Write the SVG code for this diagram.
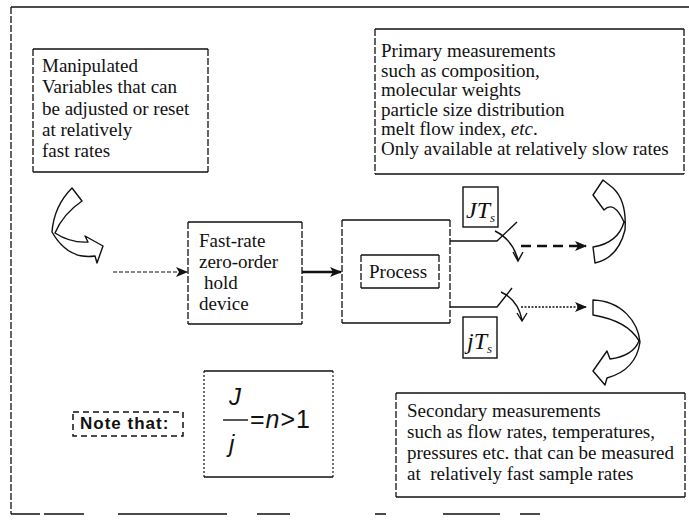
<svg xmlns="http://www.w3.org/2000/svg" width="689" height="520" viewBox="0 0 689 520">
<defs>
<style>
.t{font-family:"Liberation Serif","Times New Roman",serif;font-size:19px;fill:#111}
.ln{fill:none;stroke:#111;stroke-width:1.4}
.ds{fill:none;stroke:#111;stroke-width:1.3;stroke-dasharray:7,2}
.blk{fill:#fff;stroke:#111;stroke-width:1.4;stroke-linejoin:round}
.mi{font-family:"Liberation Serif","Times New Roman",serif;font-style:italic;fill:#111}
.ms{font-family:"Liberation Sans",Arial,sans-serif;fill:#111}
</style>
<marker id="ah" viewBox="0 0 12 10" refX="11" refY="5" markerWidth="12" markerHeight="10" markerUnits="userSpaceOnUse" orient="auto">
<path d="M0,0 L12,5 L0,10 L3,5 z" fill="#111"/>
</marker>
</defs>
<rect width="689" height="520" fill="#fff"/>

<g id="frame">
<path class="ln" d="M11,7 L689,7"/>
<path class="ds" d="M11,7 L11,514"/>
<path class="ln" d="M11,514 L40,514 M44,514 L84,514 M118,514 L227,514 M257,514 L290,514 M375,514 L386,514 M443,514 L500,514 M520,514 L540,514"/>
</g>

<g id="manipulated">
<path class="ln" d="M33,49 L208,49 M33,172 L208,172"/>
<path class="ds" d="M33,49 L33,172 M208,49 L208,172"/>
<text class="t" x="42" y="72">Manipulated</text>
<text class="t" x="42" y="93">Variables that can</text>
<text class="t" x="42" y="115">be adjusted or reset</text>
<text class="t" x="42" y="136">at relatively</text>
<text class="t" x="42" y="157">fast rates</text>
</g>

<g id="primary">
<path class="ln" d="M375,29 L684,29 M375,174 L684,174"/>
<path class="ds" d="M375,29 L375,174 M684,29 L684,174"/>
<text class="t" x="381" y="57">Primary measurements</text>
<text class="t" x="381" y="76.5">such as composition,</text>
<text class="t" x="381" y="96">molecular weights</text>
<text class="t" x="381" y="115.5">particle size distribution</text>
<text class="t" x="381" y="135">melt flow index, <tspan font-style="italic">etc</tspan>.</text>
<text class="t" x="381" y="154.5">Only available at relatively slow rates</text>
</g>

<g id="curved-left">
<path class="blk" d="M72,188 L82,201 Q63,214 55,233 Q70,243 88,242 L85,236 L103,246 L97,263 L95,256 Q68,260 52,232 Q54,206 72,188 Z"/>
</g>

<g id="zoh">
<path class="ln" d="M188,222 L302,222 M188,324 L302,324"/>
<path class="ds" d="M188,222 L188,324 M302,222 L302,324"/>
<text class="t" x="199" y="247">Fast-rate</text>
<text class="t" x="199" y="268">zero-order</text>
<text class="t" x="204" y="289">hold</text>
<text class="t" x="199" y="310">device</text>
</g>

<g id="process">
<path class="ln" d="M342,220 L450,220 M342,323 L450,323"/>
<path class="ds" d="M342,220 L342,323 M450,220 L450,323"/>
<path class="ln" d="M361,255 L439,255 M361,288 L439,288" stroke-width="1.2"/>
<path class="ds" d="M361,255 L361,288 M439,255 L439,288" stroke-width="1"/>
<text class="t" x="369" y="278">Process</text>
</g>

<g id="JTs">
<rect x="463" y="187" width="35" height="40" fill="none" stroke="#111" stroke-width="1.4"/>
<text class="mi" x="466" y="218" font-size="24">JT<tspan font-size="13" dy="4">s</tspan></text>
</g>

<g id="jTs">
<rect x="463" y="317" width="34" height="41" fill="none" stroke="#111" stroke-width="1.4"/>
<text class="mi" x="467" y="349" font-size="24">jT<tspan font-size="13" dy="4">s</tspan></text>
</g>

<g id="curved-upper-right">
<path class="blk" d="M593,247 L595,263 Q618,258 625,230 Q627,201 613,188 L603,180 L593,195 L604,210 Q614,200 624,222 Q618,243 593,247 Z"/>
</g>

<g id="curved-lower-right">
<path class="blk" d="M593,300 L593,315 Q628,321 639,341 Q633,356 610,359 L607,351 L593,371 L605,385 L607,378 Q636,370 640,342 C638,322 622,301 593,300 Z"/>
</g>

<g id="secondary">
<path class="ln" d="M396,393 L685,393 M396,497 L685,497"/>
<path class="ds" d="M396,393 L396,497 M685,393 L685,497"/>
<text class="t" x="407" y="417">Secondary measurements</text>
<text class="t" x="407" y="438">such as flow rates, temperatures,</text>
<text class="t" x="407" y="459">pressures etc. that can be measured</text>
<text class="t" x="407" y="480">at&#160; relatively fast sample rates</text>
</g>

<g id="note">
<rect x="73" y="412" width="110" height="24" fill="none" stroke="#111" stroke-width="1.5" stroke-dasharray="6,4"/>
<text class="ms" x="80" y="429" font-size="17" font-weight="bold" letter-spacing="1">Note that:</text>
</g>

<g id="formula">
<path class="ln" d="M204,371 L333,371 M204,477 L333,477"/>
<path fill="none" stroke="#111" stroke-width="1.2" stroke-dasharray="2,2" d="M204,371 L204,477 M333,371 L333,477"/>
<text class="ms" x="229" y="405" font-size="24" font-style="italic">J</text>
<path class="ln" d="M223,420 L248,420" stroke-width="1.6"/>
<text class="ms" x="229" y="452" font-size="24" font-style="italic">j</text>
<text class="ms" x="250" y="428" font-size="25" letter-spacing="1">=<tspan font-style="italic">n</tspan>&gt;1</text>
</g>

<g id="connectors">
<path fill="none" stroke="#111" stroke-width="1.2" stroke-dasharray="4,2" d="M113,272 L187,272" marker-end="url(#ah)"/>
<path fill="none" stroke="#111" stroke-width="2.6" d="M302,272 L341,272" marker-end="url(#ah)"/>
<path class="ln" d="M450,241 L497,241 L517,222"/>
<path class="ln" d="M495,231 Q513,240 518,260 M513,252 L518,261 L523,252"/>
<path fill="none" stroke="#111" stroke-width="2.6" stroke-dasharray="10,6" d="M521,246 L586,246" marker-end="url(#ah)"/>
<path class="ln" d="M450,307 L497,307 L512,288"/>
<path class="ln" d="M501,292 Q518,300 522,320 M517,313 L522,321 L527,313"/>
<path fill="none" stroke="#111" stroke-width="1.4" stroke-dasharray="2,1.5" d="M521,307 L586,307" marker-end="url(#ah)"/>
</g>
</svg>
